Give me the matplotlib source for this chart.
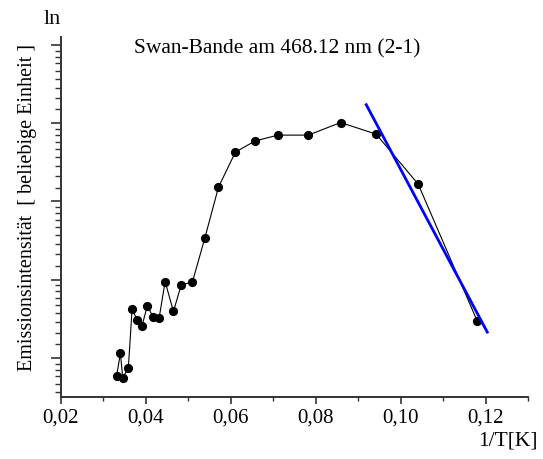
import numpy as np
import matplotlib
matplotlib.use("Agg")
import matplotlib.pyplot as plt
from matplotlib.ticker import LogLocator, NullFormatter, FixedLocator, FuncFormatter

plt.rcParams['font.family'] = ['Liberation Serif', 'DejaVu Serif']

# data: 1/T [1/K] and emission intensity (arbitrary units, ln scale)
inv_T = [0.0331, 0.0340, 0.03455, 0.03587, 0.03675, 0.03792, 0.0391, 0.04035,
         0.0417, 0.04311, 0.04453, 0.04649, 0.04830, 0.05097, 0.05389, 0.0571,
         0.06108, 0.06575, 0.07111, 0.07825, 0.08587, 0.09422, 0.10413, 0.11804]
intensity = [0.795, 1.06, 0.771, 0.883, 1.86, 1.63, 1.51, 1.95,
             1.68, 1.66, 2.65, 1.81, 2.53, 2.64, 4.63, 8.86,
             13.86, 16.0, 17.22, 17.22, 20.23, 17.44, 9.21, 1.60]
fit_x = [0.0919, 0.1204]
fit_y = [25.4, 1.39]
x_ticks = [0.02, 0.04, 0.06, 0.08, 0.10, 0.12]

fig = plt.figure(figsize=(5.43, 4.59), dpi=100)
ax = fig.add_axes([0.1123, 0.1351, 0.8601, 0.7843])

ax.plot(inv_T, intensity, color='black', lw=0.8, marker='o', ms=5.6,
        mfc='black', mec='black', zorder=3)
ax.plot(fit_x, fit_y, color='#0000ff', lw=2.0, zorder=4)

ax.set_yscale('log', base=np.e)
ax.set_ylim(np.exp(-0.5), np.exp(4.1))
ax.set_xlim(0.02, 0.13)

ax.yaxis.set_major_locator(LogLocator(base=np.e, subs=[1.0]))
subs = [1 + (np.e - 1) * k / 9 for k in range(1, 9)]
ax.yaxis.set_minor_locator(LogLocator(base=np.e, subs=subs, numticks=50))
ax.yaxis.set_major_formatter(NullFormatter())
ax.yaxis.set_minor_formatter(NullFormatter())

ax.xaxis.set_major_locator(FixedLocator(x_ticks))
ax.xaxis.set_minor_locator(FixedLocator([t + 0.01 for t in x_ticks]))
ax.xaxis.set_major_formatter(FuncFormatter(lambda v, p: f"{v:.2f}".replace('.', ',')))

for s in ['top', 'right']:
    ax.spines[s].set_visible(False)
for s in ['left', 'bottom']:
    ax.spines[s].set_linewidth(1.4)
    ax.spines[s].set_color('#333333')

ax.tick_params(axis='both', which='major', direction='out', length=5, width=1.2,
               color='#333333', labelsize=15)
ax.tick_params(axis='both', which='minor', direction='out', length=3, width=1.0,
               color='#333333')
ax.tick_params(axis='y', which='major', length=7)
ax.tick_params(axis='y', which='minor', length=4)

fig.text(0.51, 0.893, 'Swan-Bande am 468.12 nm (2-1)', ha='center', va='center', fontsize=15.5)
fig.text(0.096, 0.957, 'ln', ha='center', va='center', fontsize=16)
fig.text(0.05, 0.549, 'Emissionsintensität  [ beliebige Einheit ]', rotation=90,
         ha='center', va='center', fontsize=14.5)
fig.text(0.99, 0.04, '1/T[K]', ha='right', va='center', fontsize=15.5)

fig.savefig('out.png', dpi=100)
